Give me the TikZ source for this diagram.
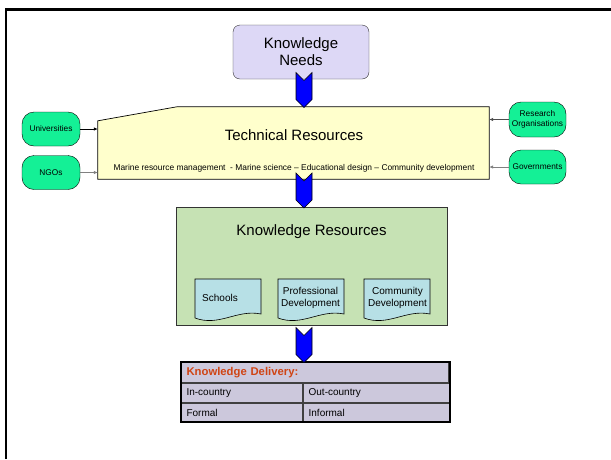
\documentclass[tikz,border=0pt]{standalone}
\usepackage{fontspec}
\setmainfont{Liberation Sans}
\usetikzlibrary{arrows.meta,positioning,shapes.symbols}
\definecolor{needsfill}{RGB}{221,216,246}
\definecolor{techfill}{RGB}{255,255,204}
\definecolor{pillfill}{RGB}{20,240,150}
\definecolor{resfill}{RGB}{198,226,180}
\definecolor{docfill}{RGB}{183,224,230}
\definecolor{tabfill}{RGB}{204,200,220}
\definecolor{headred}{RGB}{208,68,20}

\begin{document}
\begin{tikzpicture}[x=1pt,y=-1pt,
  bigtext/.style={font=\fontsize{15}{17}\selectfont},
  pill/.style={draw, fill=pillfill, rounded corners=12pt, minimum width=58pt, minimum height=34pt, inner sep=1pt, align=center, font=\fontsize{8.3}{9.6}\selectfont},
  feed/.style={-{Latex[length=4pt,width=3.5pt]}, line width=0.8pt},
  chev/.style={signal, signal from=north, signal to=south, draw, fill=blue, line width=0.6pt, minimum width=16pt, minimum height=19pt, inner sep=0pt},
  docshape/.style={draw, fill=docfill, line width=0.6pt},
  doctext/.style={align=center, font=\fontsize{10}{12.5}\selectfont, inner sep=0pt},
  cell/.style={draw=black!75, fill=tabfill, line width=1.1pt, anchor=north west, inner xsep=5pt, inner ysep=0pt, font=\fontsize{10}{12}\selectfont, align=left}]
  \useasboundingbox (0,0) rectangle (611,459);
  % slide frame
  \draw[line width=2.3pt] (6.3,459) -- (6.3,9.5) -- (611,9.5);

  % needs
  \node[draw=black!80, fill=needsfill, rounded corners=7pt, minimum width=136pt, minimum height=54pt, align=center, bigtext] (needs) at (301,52) {Knowledge\\Needs};

  % technical resources
  \node[minimum width=391pt, minimum height=72pt, inner sep=0pt] (trbox) at (293.5,143) {};
  \draw[fill=techfill, line width=0.7pt] (trbox.south west) -- ([yshift=-14pt]trbox.north west) -- ([xshift=79pt]trbox.north west) -- (trbox.north east) -- (trbox.south east) -- cycle;
  \node[bigtext] (trtitle) at (294,135) {Technical Resources};
  \node[font=\fontsize{8.4}{10}\selectfont] (trsub) at (294,168) {Marine resource management \ - Marine science -- Educational design -- Community development};

  \node[pill] (uni) at (51,129) {Universities};
  \node[pill] (ngo) at (51,172.5) {NGOs};
  \node[pill, minimum width=57pt, minimum height=35pt] (research) at (537.5,119.5) {Research\\Organisations};
  \node[pill, minimum width=57pt] (gov) at (537.5,167) {Governments};

  \draw[feed, black] (uni.east) -- (uni.east -| trbox.west);
  \draw[feed, gray] (ngo.east) -- (ngo.east -| trbox.west);
  \draw[feed, black!70] (research.west) -- (research.west -| trbox.east);
  \draw[feed, gray] (gov.west) -- (gov.west -| trbox.east);

  % knowledge resources
  \node[draw=black!80, fill=resfill, line width=0.7pt, minimum width=271pt, minimum height=118pt] (kres) at (311.5,266) {};
  \node[bigtext] (krtitle) at (311.5,232) {Knowledge Resources};
  \foreach \x/\tx/\n/\t in {195/220/schools/Schools, 278/310.5/profdev/{Professional\\Development}, 364/397.5/commdev/{Community\\Development}} {
    \draw[docshape] (\x,279) -- (\x+66,279) -- (\x+66,314) .. controls (\x+42,309) and (\x+24,327) .. (\x,318) -- cycle;
    \node[doctext] (\n) at (\tx,298) {\t};
  }

  % delivery table
  \node[cell, text width=257pt, minimum height=20pt, font=\fontsize{11.3}{13}\selectfont\bfseries, text=headred] (kdhead) at (181,362) {Knowledge Delivery:};
  \node[cell, text width=111pt, minimum height=19pt] (incountry) at (kdhead.south west) {In-country};
  \node[cell, text width=136pt, minimum height=19pt] (outcountry) at (incountry.north east) {Out-country};
  \node[cell, text width=111pt, minimum height=18pt] (formal) at (incountry.south west) {Formal};
  \node[cell, text width=136pt, minimum height=18pt] (informal) at (formal.north east) {Informal};
  \draw[line width=1.8pt] (kdhead.north west) rectangle (informal.south east);

  % flow arrows
  \node[chev] (arr1) at (304,90) {};
  \node[chev] (arr2) at (304,190.5) {};
  \node[chev] (arr3) at (304,345) {};
\end{tikzpicture}
\end{document}
